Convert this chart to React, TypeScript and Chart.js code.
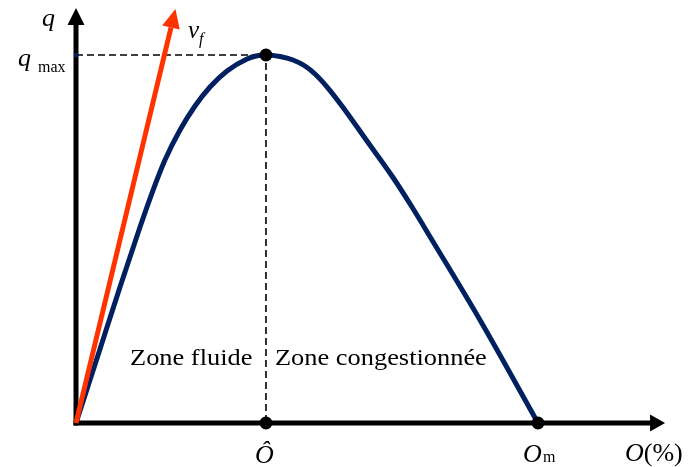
import React, { useEffect, useRef } from 'react';
import { Chart, registerables } from 'chart.js';
Chart.register(...registerables);

// Fundamental diagram: occupancy O (%) vs flow q (arbitrary units, axes run 0..100)
const occupancy = [
  0, 4.07, 7.46, 10.85, 12.88, 15.08, 17.63, 20.17, 22.71, 25.59, 28.98, 30.51, 32.2,
  34.58, 36.78, 38.81, 40.51, 42.71, 45.08, 49.32, 53.56, 56.95, 60.34, 68.47, 78.31,
];
const flow = [
  0, 17.83, 32.77, 47.23, 55.42, 63.37, 70.6, 76.39, 80.96, 84.82, 87.71, 88.43, 88.67,
  88.31, 87.47, 86.02, 84.1, 80.72, 76.39, 67.95, 59.52, 52.05, 44.1, 24.82, 0,
];

const O_HAT = 32.2; // critical occupancy
const Q_MAX = 88.67; // maximum flow
const O_M = 78.31; // jam occupancy

// free-flow speed arrow (start, end of shaft)
const vfX = [0, 16.1];
const vfY = [0, 95.3];

// axis shafts (end before arrow heads)
const xAxisX = [0, 97.3];
const yAxisY = [0, 95.9];

const NAVY = '#002060';
const RED = '#ff3300';
const FONT = '"Liberation Serif", "Times New Roman", serif';

const arrowPlugin = {
  id: 'arrowHeads',
  afterDatasetsDraw(chart: any) {
    const ctx = chart.ctx;
    chart.data.datasets.forEach((ds: any, i: number) => {
      if (!ds.arrowHead) return;
      const pts = chart.getDatasetMeta(i).data;
      const a = pts[pts.length - 2];
      const b = pts[pts.length - 1];
      const dx = b.x - a.x;
      const dy = b.y - a.y;
      const len = Math.hypot(dx, dy);
      const ux = dx / len;
      const uy = dy / len;
      const L = ds.arrowHead.length;
      const W = ds.arrowHead.width;
      ctx.save();
      ctx.fillStyle = ds.borderColor;
      ctx.beginPath();
      ctx.moveTo(b.x + ux * L, b.y + uy * L);
      ctx.lineTo(b.x - uy * W, b.y + ux * W);
      ctx.lineTo(b.x + uy * W, b.y - ux * W);
      ctx.closePath();
      ctx.fill();
      ctx.restore();
    });
  },
};

function txt(ctx: CanvasRenderingContext2D, s: string, x: number, y: number, font: string, sx = 1) {
  ctx.save();
  ctx.font = font;
  ctx.textAlign = 'left';
  ctx.textBaseline = 'alphabetic';
  ctx.fillStyle = '#000';
  ctx.translate(x, y);
  ctx.scale(sx, 1);
  ctx.fillText(s, 0, 0);
  const w = ctx.measureText(s).width * sx;
  ctx.restore();
  return w;
}

const labelPlugin = {
  id: 'labels',
  afterDraw(chart: any) {
    const ctx = chart.ctx;
    const xs = chart.scales.x;
    const ys = chart.scales.y;
    const x0 = xs.getPixelForValue(0);
    const y0 = ys.getPixelForValue(0);
    const yq = ys.getPixelForValue(Q_MAX);
    const xh = xs.getPixelForValue(O_HAT);
    const xm = xs.getPixelForValue(O_M);
    const it = (n: number) => `italic ${n}px ${FONT}`;
    const up = (n: number) => `${n}px ${FONT}`;

    // y axis label
    txt(ctx, 'q', x0 - 34, 26, it(26));
    // q_max
    txt(ctx, 'q', x0 - 58, yq + 11, it(26));
    txt(ctx, 'max', x0 - 38, yq + 17, up(16));
    // v_f
    const vx = xs.getPixelForValue(vfX[1]);
    const vy = ys.getPixelForValue(vfY[1]);
    txt(ctx, 'v', vx + 17, vy + 10, it(25));
    txt(ctx, 'f', vx + 28, vy + 16, it(16));
    // zones
    txt(ctx, 'Zone fluide', 130, y0 - 58, up(24), 1.1);
    txt(ctx, 'Zone congestionnée', xh + 9, y0 - 58, up(24), 1.1);
    // x labels
    txt(ctx, 'Ô', xh - 11, y0 + 40, it(26));
    txt(ctx, 'O', xm - 15, y0 + 39, it(26));
    txt(ctx, 'm', xm + 5, y0 + 39, up(16));
    const w = txt(ctx, 'O', 625, y0 + 38, it(26));
    txt(ctx, '(%)', 625 + w, y0 + 38, up(26));
  },
};

export default function App() {
  const ref = useRef<HTMLCanvasElement | null>(null);
  useEffect(() => {
    if (!ref.current) return;
    const chart = new Chart(ref.current, {
      type: 'line',
      data: {
        datasets: [
          {
            label: 'points',
            data: [
              { x: O_HAT, y: Q_MAX },
              { x: O_HAT, y: 0 },
              { x: O_M, y: 0 },
            ],
            showLine: false,
            pointRadius: 6.5,
            pointBackgroundColor: '#000',
            pointBorderWidth: 0,
            order: 0,
            clip: false,
          } as any,
          {
            label: 'qmax marker',
            data: [{ x: 0, y: Q_MAX }],
            showLine: false,
            pointStyle: 'rect',
            pointRadius: 3,
            pointBackgroundColor: NAVY,
            pointBorderWidth: 0,
            order: 0,
            clip: false,
          } as any,
          {
            label: 'vf',
            data: vfX.map((x, i) => ({ x, y: vfY[i] })),
            borderColor: RED,
            borderWidth: 5,
            pointRadius: 0,
            tension: 0,
            order: 1,
            clip: false,
            arrowHead: { length: 19, width: 9 },
          } as any,
          {
            label: 'q(O)',
            data: occupancy.map((x, i) => ({ x, y: flow[i] })),
            borderColor: NAVY,
            borderWidth: 5,
            borderJoinStyle: 'round',
            pointRadius: 0,
            cubicInterpolationMode: 'monotone',
            order: 2,
            clip: false,
          } as any,
          {
            label: 'guides',
            data: [
              { x: 0, y: Q_MAX },
              { x: O_HAT, y: Q_MAX },
              { x: O_HAT, y: 0 },
            ],
            borderColor: '#000',
            borderWidth: 1.6,
            borderDash: [7, 4],
            pointRadius: 0,
            tension: 0,
            order: 3,
            clip: false,
          } as any,
          {
            label: 'x axis',
            data: xAxisX.map((x) => ({ x, y: 0 })),
            borderColor: '#000',
            borderWidth: 5,
            borderCapStyle: 'square',
            pointRadius: 0,
            order: 4,
            clip: false,
            arrowHead: { length: 15, width: 8.5 },
          } as any,
          {
            label: 'y axis',
            data: yAxisY.map((y) => ({ x: 0, y })),
            borderColor: '#000',
            borderWidth: 5,
            borderCapStyle: 'square',
            pointRadius: 0,
            order: 4,
            clip: false,
            arrowHead: { length: 17, width: 8.5 },
          } as any,
        ],
      },
      options: {
        responsive: false,
        animation: false,
        events: [],
        layout: { padding: { left: 76, right: 23, top: 8, bottom: 44 } },
        plugins: { legend: { display: false }, tooltip: { enabled: false } },
        scales: {
          x: { type: 'linear', min: 0, max: 100, display: false },
          y: { type: 'linear', min: 0, max: 100, display: false },
        },
      },
      plugins: [arrowPlugin, labelPlugin],
    });
    return () => chart.destroy();
  }, []);
  return (
    <div style={{ position: 'absolute', left: 0, top: 0, width: 689, height: 467, background: '#fff' }}>
      <canvas ref={ref} width={689} height={467} />
    </div>
  );
}
